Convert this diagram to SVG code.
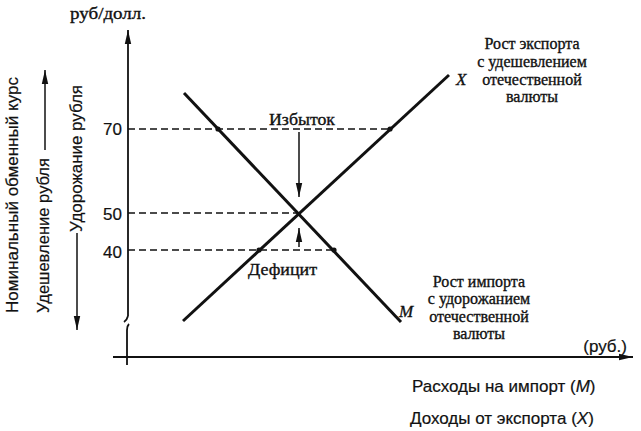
<svg xmlns="http://www.w3.org/2000/svg" width="641" height="431" viewBox="0 0 641 431">
  <defs>
    <marker id="arr" markerUnits="userSpaceOnUse" markerWidth="14" markerHeight="8" refX="14" refY="4" orient="auto">
      <path d="M0,0.8 L14,4 L0,7.2 Z" fill="#111"/>
    </marker>
  </defs>
  <style>
    .axis { stroke:#111; stroke-width:1.8; fill:none; }
    .curve { stroke:#111; stroke-width:3; fill:none; stroke-linecap:butt; }
    .dash { stroke:#111; stroke-width:1.3; stroke-dasharray:7 4; fill:none; }
    .thin { stroke:#111; stroke-width:1.5; fill:none; }
    .serif { font-family:"Liberation Serif","Times New Roman",serif; fill:#111; stroke:#111; stroke-width:0.35; }
    .sans { font-family:"Liberation Sans",Arial,sans-serif; fill:#111; stroke:#111; stroke-width:0.2; }
    .dot { fill:#111; }
  </style>
  <rect width="641" height="431" fill="#fff"/>

  <g id="axes">
    <path class="axis" d="M128,316 L128,30" marker-end="url(#arr)"/>
    <path class="axis" d="M128,316 Q127,320 124,322"/>
    <path class="axis" d="M129,324 Q127,326 127,330 L127,365"/>
    <path class="axis" d="M113,357 L633,357" marker-end="url(#arr)"/>
  </g>

  <g id="connectors">
    <path class="dash" d="M128,129 L390,129"/>
    <path class="dash" d="M128,213 L299,213"/>
    <path class="dash" d="M128,250 L334,250"/>
    <path class="thin" d="M299,132 L299,197" marker-end="url(#arr)"/>
    <path class="thin" d="M299,247 L299,228" marker-end="url(#arr)"/>
    <path class="thin" d="M45,150 L45,70" marker-end="url(#arr)"/>
    <path class="thin" d="M77,233 L77,330" marker-end="url(#arr)"/>
  </g>

  <g id="curve-M">
    <path class="curve" d="M184,93 L401,322"/>
    <circle class="dot" cx="218" cy="129" r="2.6"/>
    <circle class="dot" cx="334" cy="250" r="2.6"/>
    <text class="serif" x="399" y="317" font-size="17" font-style="italic">M</text>
  </g>

  <g id="curve-X">
    <path class="curve" d="M183,321 L449,75"/>
    <circle class="dot" cx="390" cy="129" r="2.6"/>
    <circle class="dot" cx="259" cy="250" r="2.6"/>
    <text class="serif" x="456" y="85" font-size="17" font-style="italic">X</text>
  </g>

  <g id="labels">
    <text class="serif" x="70" y="19" font-size="17" textLength="76" lengthAdjust="spacingAndGlyphs">руб/долл.</text>
    <text class="sans" x="122" y="135" font-size="17" text-anchor="end">70</text>
    <text class="sans" x="122" y="220" font-size="17" text-anchor="end">50</text>
    <text class="sans" x="122" y="258" font-size="17" text-anchor="end">40</text>

    <text class="serif" x="269" y="125" font-size="17" textLength="66" lengthAdjust="spacingAndGlyphs">Избыток</text>
    <text class="serif" x="248" y="275" font-size="17" textLength="69" lengthAdjust="spacingAndGlyphs">Дефицит</text>

    <text class="sans" transform="translate(18,313) rotate(-90)" font-size="17" textLength="236" lengthAdjust="spacingAndGlyphs">Номинальный обменный курс</text>
    <text class="sans" transform="translate(49,313) rotate(-90)" font-size="17" textLength="155" lengthAdjust="spacingAndGlyphs">Удешевление рубля</text>
    <text class="sans" transform="translate(82,232) rotate(-90)" font-size="17" textLength="147" lengthAdjust="spacingAndGlyphs">Удорожание рубля</text>

    <g class="serif" font-size="16" text-anchor="middle">
      <text x="532" y="49">Рост экспорта</text>
      <text x="532" y="67">с удешевлением</text>
      <text x="532" y="85">отечественной</text>
      <text x="532" y="102">валюты</text>
    </g>
    <g class="serif" font-size="16" text-anchor="middle">
      <text x="479" y="287">Рост импорта</text>
      <text x="479" y="304">с удорожанием</text>
      <text x="479" y="322">отечественной</text>
      <text x="479" y="339">валюты</text>
    </g>

    <text class="sans" x="627" y="352" font-size="17" text-anchor="end">(руб.)</text>
    <text class="sans" x="412" y="392" font-size="17">Расходы на импорт (<tspan font-style="italic">M</tspan>)</text>
    <text class="sans" x="410" y="424" font-size="17">Доходы от экспорта (<tspan font-style="italic">X</tspan>)</text>
  </g>
</svg>
